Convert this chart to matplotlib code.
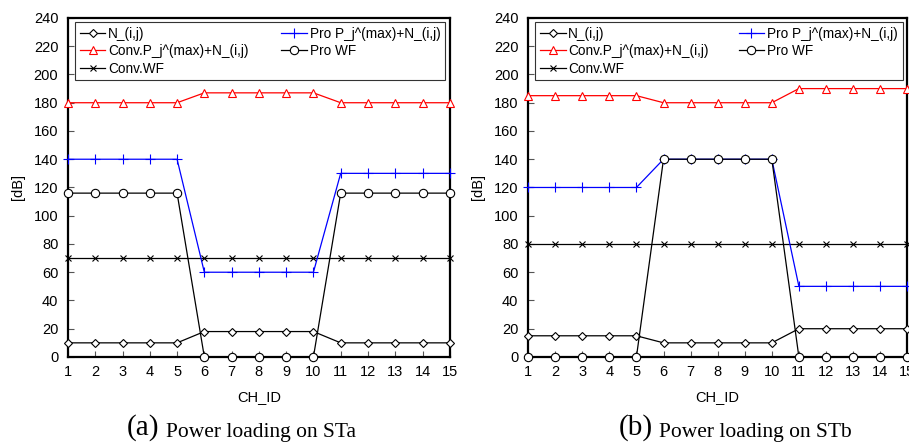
# Power loading on STa / STb, two panels side by side
import numpy as np
import matplotlib.pyplot as plt

plt.rcParams['font.family'] = ['Liberation Sans', 'DejaVu Sans']

ch_id = np.arange(1, 16)

# panel (a) STa
sta_noise = [10, 10, 10, 10, 10, 18, 18, 18, 18, 18, 10, 10, 10, 10, 10]
sta_conv_pmax = [180, 180, 180, 180, 180, 187, 187, 187, 187, 187, 180, 180, 180, 180, 180]
sta_conv_wf = [70] * 15
sta_pro_pmax = [140, 140, 140, 140, 140, 60, 60, 60, 60, 60, 130, 130, 130, 130, 130]
sta_pro_wf = [116, 116, 116, 116, 116, 0, 0, 0, 0, 0, 116, 116, 116, 116, 116]

# panel (b) STb
stb_noise = [15, 15, 15, 15, 15, 10, 10, 10, 10, 10, 20, 20, 20, 20, 20]
stb_conv_pmax = [185, 185, 185, 185, 185, 180, 180, 180, 180, 180, 190, 190, 190, 190, 190]
stb_conv_wf = [80] * 15
stb_pro_pmax = [120, 120, 120, 120, 120, 140, 140, 140, 140, 140, 50, 50, 50, 50, 50]
stb_pro_wf = [0, 0, 0, 0, 0, 140, 140, 140, 140, 140, 0, 0, 0, 0, 0]

labels = ['N_(i,j)', 'Conv.P_j^(max)+N_(i,j)', 'Conv.WF', 'Pro P_j^(max)+N_(i,j)', 'Pro WF']
captions = [('(a)', 'Power loading on STa'), ('(b)', 'Power loading on STb')]

fig = plt.figure(figsize=(9.09, 4.44), dpi=100)
ax_a = fig.add_axes([0.0748, 0.196, 0.420, 0.7635])
ax_b = fig.add_axes([0.581, 0.196, 0.417, 0.7635])

panels = [
    (ax_a, sta_noise, sta_conv_pmax, sta_conv_wf, sta_pro_pmax, sta_pro_wf),
    (ax_b, stb_noise, stb_conv_pmax, stb_conv_wf, stb_pro_pmax, stb_pro_wf),
]

for ax, noise, conv_p, conv_wf, pro_p, pro_wf in panels:
    lw = 0.9
    ax.plot(ch_id, noise, color='black', lw=lw, marker='D', ms=4.3,
            mfc='white', mec='black', mew=0.8, label=labels[0], clip_on=False, zorder=4)
    ax.plot(ch_id, conv_p, color='red', lw=lw, marker='^', ms=6,
            mfc='white', mec='red', mew=0.8, label=labels[1], clip_on=False, zorder=3)
    ax.plot(ch_id, conv_wf, color='black', lw=lw, marker='x', ms=5,
            mew=0.8, label=labels[2], clip_on=False, zorder=3)
    ax.plot(ch_id, pro_p, color='blue', lw=lw, marker='+', ms=6.5,
            mew=0.8, label=labels[3], clip_on=False, zorder=3)
    ax.plot(ch_id, pro_wf, color='black', lw=lw, marker='o', ms=6,
            mfc='white', mec='black', mew=0.8, label=labels[4], clip_on=False, zorder=5)

    ax.set_xlim(1, 15)
    ax.set_ylim(0, 240)
    ax.set_xticks(ch_id)
    ax.set_yticks(np.arange(0, 241, 20))
    ax.tick_params(direction='in', length=4, width=0.8, color='#555555',
                   labelsize=10.5, pad=6)
    ax.tick_params(axis='y', pad=7)
    for sp in ax.spines.values():
        sp.set_linewidth(1.6)
    ax.set_xlabel('CH_ID', fontsize=10.5, labelpad=8)
    ax.set_ylabel('[dB]', fontsize=10.5, labelpad=6)

    leg = ax.legend(loc='upper left', ncol=2, mode='expand',
                    bbox_to_anchor=(0.018, 0.826, 0.97, 0.162), borderaxespad=0,
                    fontsize=9.8, handlelength=1.9, handletextpad=0.2,
                    labelspacing=0.25, borderpad=0.35, columnspacing=1.0,
                    fancybox=False, framealpha=1)
    leg.get_frame().set_edgecolor('#333333')
    leg.get_frame().set_linewidth(0.8)

# captions under each panel, serif
fig.text(0.175, 0.022, captions[0][0], family='Liberation Serif', fontsize=21,
         ha='right', va='baseline')
fig.text(0.183, 0.016, captions[0][1], family='Liberation Serif', fontsize=15.5,
         ha='left', va='baseline')
fig.text(0.7185, 0.022, captions[1][0], family='Liberation Serif', fontsize=21,
         ha='right', va='baseline')
fig.text(0.725, 0.016, captions[1][1], family='Liberation Serif', fontsize=15.5,
         ha='left', va='baseline')

fig.savefig('out.png', dpi=100)
